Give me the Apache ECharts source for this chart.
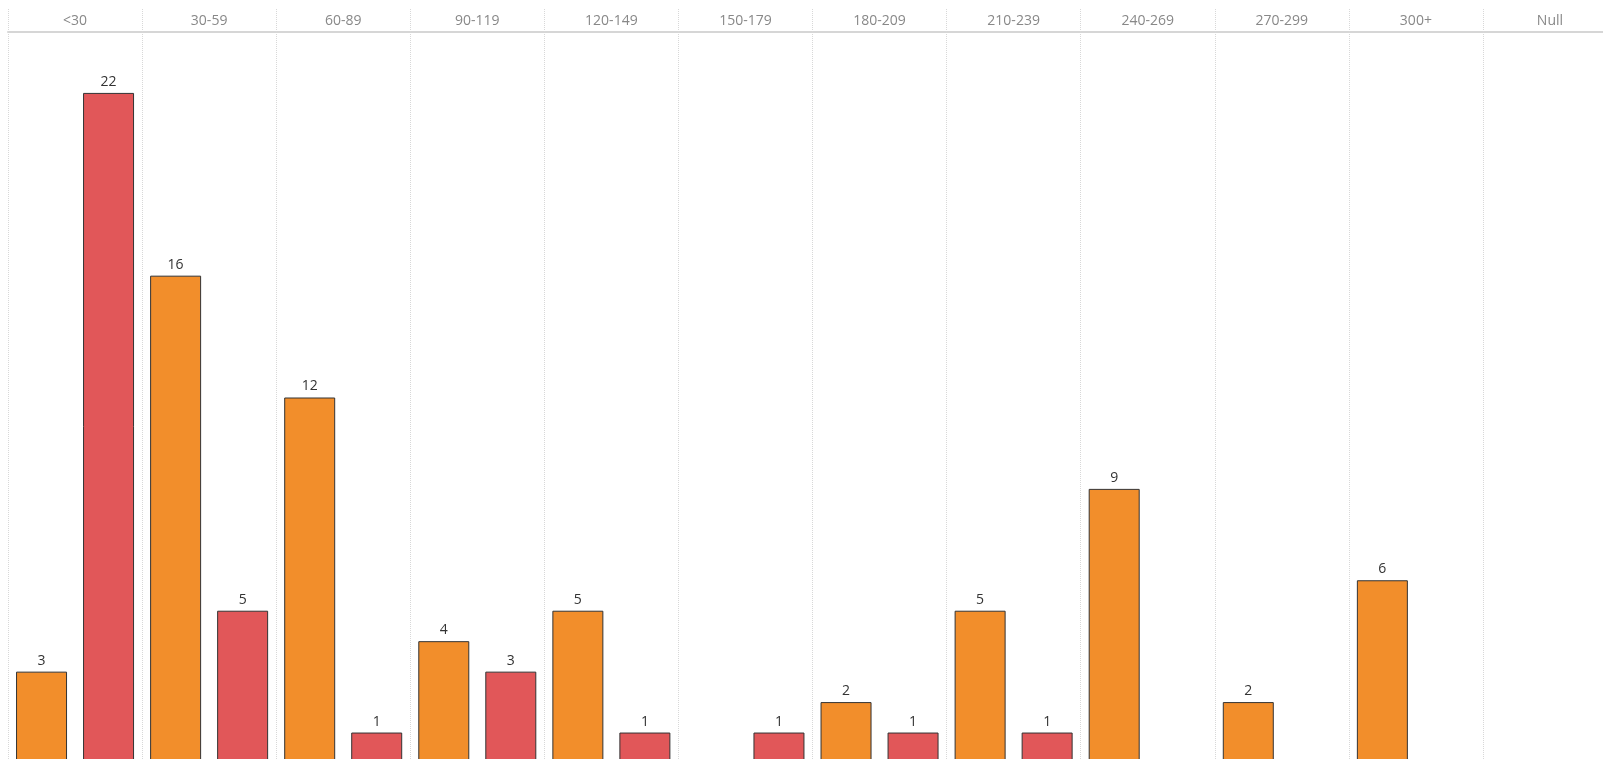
<!DOCTYPE html>
<html>
<head>
<meta charset="utf-8">
<script src="https://cdn.jsdelivr.net/npm/echarts@6/dist/echarts.min.js"></script>
<style>
html,body{margin:0;padding:0;background:#fff;overflow:hidden;}
#main{width:1603px;height:759px;}
</style>
</head>
<body>
<div id="main"></div>
<script>
const categories = ['<30','30-59','60-89','90-119','120-149','150-179','180-209','210-239','240-269','270-299','300+','Null'];
const orangeValues = [3, 16, 12, 4, 5, null, 2, 5, 9, 2, 6, null];
const redValues = [22, 5, 1, 3, 1, 1, 1, 1, null, null, null, null];

const chart = echarts.init(document.getElementById('main'), null, {renderer:'canvas'});
const labelStyle = {
  show: true, position: 'top', distance: 4,
  color: '#333', fontSize: 14, fontFamily: '"Open Sans", Lato, sans-serif'
};
chart.setOption({
  animation: false,
  backgroundColor: '#ffffff',
  grid: { left: 8, top: 32, width: 1609, height: 731, containLabel: false, outerBoundsMode: 'none' },
  xAxis: {
    type: 'category',
    position: 'top',
    data: categories,
    axisLine: { show: true, onZero: false, lineStyle: { color: '#d6d6d6', width: 2 } },
    axisTick: { show: true, length: 23, lineStyle: { color: '#d8d8d8', type: 'dotted', width: 1 } },
    axisLabel: { color: '#888', fontSize: 14, margin: 4, fontFamily: '"Open Sans", Lato, sans-serif' },
    splitLine: { show: true, lineStyle: { color: '#d8d8d8', type: 'dotted', width: 1 } }
  },
  yAxis: {
    type: 'value', min: 0, max: 24, show: false,
    splitLine: { show: false }
  },
  series: [
    {
      type: 'bar', name: 'orange', data: orangeValues,
      barWidth: 51, barGap: '31.4%',
      itemStyle: { color: '#F28E2B', borderColor: '#333', borderWidth: 1 },
      label: labelStyle
    },
    {
      type: 'bar', name: 'red', data: redValues,
      barWidth: 51,
      itemStyle: { color: '#E15759', borderColor: '#333', borderWidth: 1 },
      label: labelStyle
    }
  ]
});
</script>
</body>
</html>
